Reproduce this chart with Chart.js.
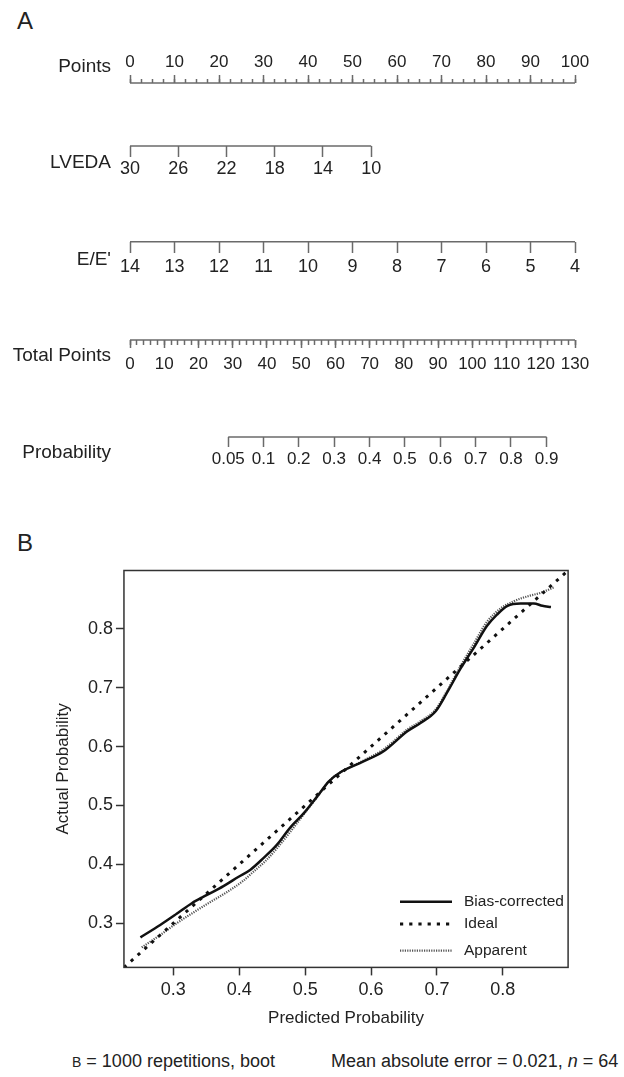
<!DOCTYPE html>
<html>
<head>
<meta charset="utf-8">
<script src="https://cdn.jsdelivr.net/npm/chart.js@4.4.1/dist/chart.umd.min.js"></script>
<style>
  body { margin: 0; background: #fff; font-family: 'Liberation Sans', Arial, sans-serif; color: #222; }
  #page { position: relative; width: 624px; height: 1077px; overflow: hidden; }
  .panel { position: absolute; left: 17px; font-size: 24px; line-height: 24px; }
  #nomoBox { position: absolute; left: 0; top: 0; width: 624px; height: 500px; }
  #calBox { position: absolute; left: 0; top: 500px; width: 624px; height: 530px; }
  .foot { position: absolute; top: 1052px; font-size: 18px; line-height: 18px; white-space: nowrap; }
</style>
</head>
<body>
<div id="page">
  <div class="panel" style="top:9px">A</div>
  <div id="nomoBox"><canvas id="nomo"></canvas></div>
  <div class="panel" style="top:531px">B</div>
  <div id="calBox"><canvas id="calib"></canvas></div>
  <div class="foot" style="left:72px"><span style="font-size:14px">B</span> = 1000 repetitions, boot</div>
  <div class="foot" style="left:331px">Mean absolute error = 0.021, <i>n</i> = 64</div>
</div>
<script>
Chart.defaults.font.family = "'Liberation Sans', Arial, sans-serif";
Chart.defaults.color = '#222';
Chart.defaults.animation = false;

// ---- Nomogram (A) ----
const rowNames = ['Points', 'LVEDA', "E/E'", 'Total Points', 'Probability'];
const pointsTicks = [0, 10, 20, 30, 40, 50, 60, 70, 80, 90, 100];
const lvedaTicks = [30, 26, 22, 18, 14, 10];
const eeTicks = [14, 13, 12, 11, 10, 9, 8, 7, 6, 5, 4];
const totalTicks = [0, 10, 20, 30, 40, 50, 60, 70, 80, 90, 100, 110, 120, 130];
const probLabels = ['0.05', '0.1', '0.2', '0.3', '0.4', '0.5', '0.6', '0.7', '0.8', '0.9'];
// where each probability sits on the total points scale
const probAtTotal = [28.7, 39.0, 49.3, 59.6, 70.0, 80.3, 90.7, 101.0, 111.3, 121.7];

// ---- Calibration (B) ----
const biasX = [0.250, 0.280, 0.305, 0.328, 0.351, 0.376, 0.399, 0.417, 0.437, 0.457, 0.477, 0.498, 0.518, 0.536, 0.553,
               0.583, 0.619, 0.655, 0.675, 0.698, 0.715, 0.735, 0.756, 0.776, 0.791, 0.807, 0.827, 0.847, 0.860, 0.873];
const biasY = [0.276, 0.297, 0.316, 0.334, 0.348, 0.363, 0.379, 0.391, 0.411, 0.433, 0.462, 0.487, 0.515, 0.541, 0.556,
               0.572, 0.592, 0.626, 0.640, 0.660, 0.691, 0.731, 0.768, 0.805, 0.824, 0.839, 0.843, 0.843, 0.839, 0.837];
const apparentX = [0.252, 0.280, 0.305, 0.330, 0.356, 0.380, 0.406, 0.420, 0.440, 0.460, 0.480, 0.500, 0.520, 0.536, 0.553,
                   0.583, 0.620, 0.655, 0.675, 0.698, 0.715, 0.735, 0.756, 0.776, 0.796, 0.817, 0.837, 0.857, 0.877];
const apparentY = [0.259, 0.280, 0.300, 0.318, 0.336, 0.352, 0.372, 0.386, 0.406, 0.431, 0.459, 0.488, 0.517, 0.541, 0.556,
                   0.573, 0.596, 0.629, 0.643, 0.663, 0.694, 0.735, 0.775, 0.812, 0.834, 0.847, 0.855, 0.861, 0.870];
const idealX = [0.225, 0.899];
const idealY = [0.225, 0.899];
const calTicks = [0.3, 0.4, 0.5, 0.6, 0.7, 0.8];
const calTickLabels = ['0.3', '0.4', '0.5', '0.6', '0.7', '0.8'];

const AXIS = '#6a6a6a';
// layout: vertical position (px) of each nomogram axis line and row title
const ROW = { points: 83, lveda: 146, ee: 241.7, total: 340, prob: 437 };
const TITLE_Y = [66.5, 163, 259.5, 356, 452.5];

function fixedTicks(values) {
  return scale => { scale.ticks = values.map(v => ({ value: v })); };
}

function nomoAxis(o) {
  return {
    type: 'linear',
    axis: 'x',
    min: o.min,
    max: o.max,
    reverse: !!o.reverse,
    position: { y: o.y },
    afterBuildTicks: o.values ? fixedTicks(o.values) : undefined,
    border: { display: false },
    grid: { display: true, drawOnChartArea: false, drawTicks: true, tickLength: o.len, tickColor: AXIS, tickWidth: 1.5 },
    ticks: {
      display: !!o.labels,
      stepSize: o.step,
      autoSkip: false,
      maxRotation: 0,
      minRotation: 0,
      padding: o.pad || 0,
      color: '#222',
      font: { size: o.size || 16 },
      callback: (v, i) => o.labels ? o.labels[i] : ''
    }
  };
}

function axisLine(xAxisID, from, to, y) {
  return {
    data: [{ x: from, y: y }, { x: to, y: y }],
    xAxisID: xAxisID, yAxisID: 'y',
    showLine: true, borderColor: AXIS, borderWidth: 1.5, pointRadius: 0
  };
}

new Chart(document.getElementById('nomo'), {
  type: 'scatter',
  data: {
    datasets: [
      axisLine('xPts', pointsTicks[0], pointsTicks[pointsTicks.length - 1], ROW.points),
      axisLine('xLveda', lvedaTicks[0], lvedaTicks[lvedaTicks.length - 1], ROW.lveda),
      axisLine('xEe', eeTicks[0], eeTicks[eeTicks.length - 1], ROW.ee),
      axisLine('xTotal', totalTicks[0], totalTicks[totalTicks.length - 1], ROW.total),
      axisLine('xTotal', probAtTotal[0], probAtTotal[probAtTotal.length - 1], ROW.prob)
    ]
  },
  options: {
    responsive: true,
    maintainAspectRatio: false,
    events: [],
    layout: { padding: { left: 10, right: 49, top: 40, bottom: 40 } },
    plugins: { legend: { display: false }, tooltip: { enabled: false } },
    scales: {
      y: {
        type: 'linear', min: 40, max: 460, reverse: true,
        afterBuildTicks: fixedTicks(TITLE_Y),
        afterFit: s => { s.width = 120; },
        grid: { display: false, drawTicks: false },
        border: { display: false },
        ticks: { autoSkip: false, padding: 19, color: '#222', font: { size: 19 }, callback: (v, i) => rowNames[i] }
      },
      xPts: nomoAxis({ min: 0, max: 100, y: ROW.points - 8, len: 8, values: pointsTicks, labels: pointsTicks.map(String), pad: -31.2, size: 17 }),
      xPtsMinor: nomoAxis({ min: 0, max: 100, y: ROW.points - 4, len: 4, step: 2.5 }),
      // LVEDA 30 -> 0 points, 10 -> 54.2 points
      xLveda: nomoAxis({ min: -6.9, max: 30, reverse: true, y: ROW.lveda, len: 11, values: lvedaTicks, labels: lvedaTicks.map(String), pad: 1.2, size: 18 }),
      xEe: nomoAxis({ min: 4, max: 14, reverse: true, y: ROW.ee, len: 11, values: eeTicks, labels: eeTicks.map(String), pad: 4, size: 18 }),
      xTotal: nomoAxis({ min: 0, max: 130, y: ROW.total, len: 8, values: totalTicks, labels: totalTicks.map(String), pad: 6.3, size: 17 }),
      xTotalMinor: nomoAxis({ min: 0, max: 130, y: ROW.total, len: 5, step: 2 }),
      xProb: nomoAxis({ min: 0, max: 130, y: ROW.prob, len: 10, values: probAtTotal, labels: probLabels, pad: 2.3, size: 17 })
    }
  }
});

// ---- calibration plot ----
const framePlugin = {
  id: 'frame',
  afterDatasetsDraw(chart) {
    const { left, top, width, height } = chart.chartArea;
    const ctx = chart.ctx;
    ctx.save();
    ctx.strokeStyle = '#333';
    ctx.lineWidth = 1.5;
    ctx.strokeRect(left, top, width, height);
    ctx.restore();
  }
};

const LEGEND = { order: ['Bias-corrected', 'Ideal', 'Apparent'], x1: 400, x2: 452, textX: 464, rows: [401.7, 424, 450.7] };
const legendPlugin = {
  id: 'calLegend',
  afterDraw(chart) {
    const ctx = chart.ctx;
    ctx.save();
    LEGEND.order.forEach((label, i) => {
      const ds = chart.data.datasets.find(d => d.label === label);
      const y = LEGEND.rows[i];
      ctx.beginPath();
      ctx.setLineDash(ds.borderDash || []);
      ctx.lineWidth = ds.borderWidth;
      ctx.strokeStyle = ds.borderColor;
      ctx.moveTo(LEGEND.x1, y);
      ctx.lineTo(LEGEND.x2, y);
      ctx.stroke();
      ctx.setLineDash([]);
      ctx.fillStyle = '#222';
      ctx.font = "15.5px 'Liberation Sans', Arial, sans-serif";
      ctx.textBaseline = 'middle';
      ctx.fillText(label, LEGEND.textX, y);
    });
    ctx.restore();
  }
};

const toXY = (xs, ys) => xs.map((x, i) => ({ x: x, y: ys[i] }));

new Chart(document.getElementById('calib'), {
  type: 'scatter',
  data: {
    datasets: [
      { label: 'Ideal', data: toXY(idealX, idealY), showLine: true, borderColor: '#111', borderWidth: 3, borderDash: [3.2, 6], pointRadius: 0 },
      { label: 'Bias-corrected', data: toXY(biasX, biasY), showLine: true, borderColor: '#111', borderWidth: 2.5, pointRadius: 0, cubicInterpolationMode: 'monotone' },
      { label: 'Apparent', data: toXY(apparentX, apparentY), showLine: true, borderColor: '#555', borderWidth: 2.2, borderDash: [1.2, 1.2], pointRadius: 0, cubicInterpolationMode: 'monotone' }
    ]
  },
  options: {
    responsive: true,
    maintainAspectRatio: false,
    events: [],
    layout: { padding: { left: 0, right: 55.9, top: 70.5, bottom: 0 } },
    plugins: { legend: { display: false }, tooltip: { enabled: false } },
    scales: {
      x: {
        type: 'linear', min: 0.225, max: 0.899,
        afterBuildTicks: fixedTicks(calTicks),
        afterFit: s => { s.height = 62.6; },
        border: { display: false },
        grid: { drawOnChartArea: false, tickLength: 8, tickColor: '#333', tickWidth: 1.5 },
        ticks: { autoSkip: false, maxRotation: 0, minRotation: 0, padding: 3.8, color: '#222', font: { size: 18 }, callback: (v, i) => calTickLabels[i] },
        title: { display: true, text: 'Predicted Probability', color: '#222', font: { size: 17 }, padding: { top: 0, bottom: 1.8 } }
      },
      y: {
        type: 'linear', min: 0.225, max: 0.899,
        afterBuildTicks: fixedTicks(calTicks),
        afterFit: s => { s.width = 123.95; },
        border: { display: false },
        grid: { drawOnChartArea: false, tickLength: 8, tickColor: '#333', tickWidth: 1.5 },
        ticks: { autoSkip: false, padding: 2.95, color: '#222', font: { size: 18 }, callback: (v, i) => calTickLabels[i] },
        title: { display: true, text: 'Actual Probability', color: '#222', font: { size: 17 }, padding: { top: 52.8, bottom: 0 } }
      }
    }
  },
  plugins: [framePlugin, legendPlugin]
});
</script>
</body>
</html>
